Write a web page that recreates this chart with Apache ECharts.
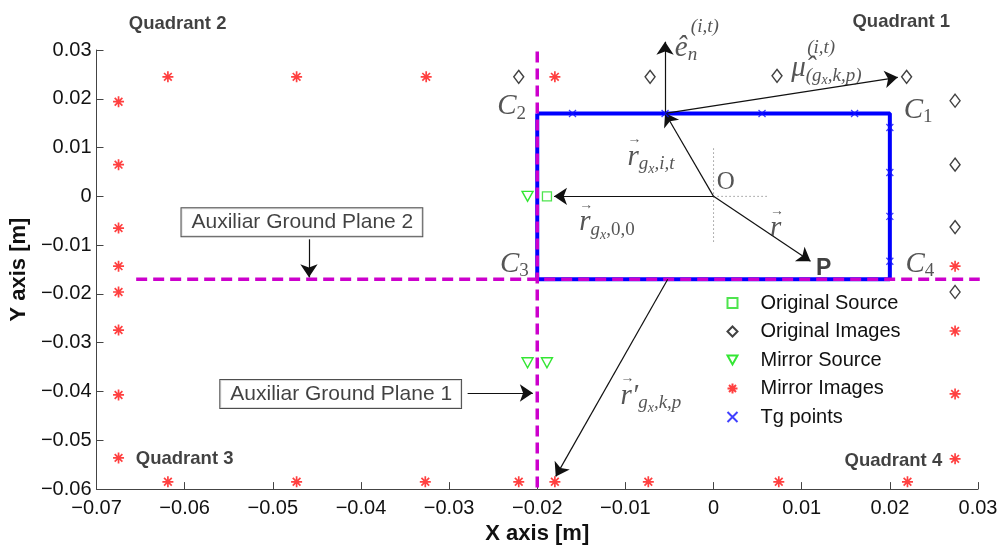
<!DOCTYPE html>
<html>
<head>
<meta charset="utf-8">
<script src="https://cdn.jsdelivr.net/npm/echarts@6/dist/echarts.min.js"></script>
<style>
  html, body { margin: 0; padding: 0; background: #fff; }
  #chart { width: 1001px; height: 550px; }
</style>
</head>
<body>
<div id="chart"></div>
<script>
// tick values of both axes
const xTicks = [-0.07, -0.06, -0.05, -0.04, -0.03, -0.02, -0.01, 0, 0.01, 0.02, 0.03];
const yTicks = [-0.06, -0.05, -0.04, -0.03, -0.02, -0.01, 0, 0.01, 0.02, 0.03];

// conductor rectangle (C2 -> C1 -> C4 -> C3 -> C2)
const rectCorners = [[-0.02, 0.017], [0.02, 0.017], [0.02, -0.017], [-0.02, -0.017], [-0.02, 0.017]];

// point series
const originalSource = [[-0.0189, 0]];
const originalImages = [
  [-0.0221, 0.0245], [-0.0072, 0.0245], [0.0072, 0.0247], [0.0219, 0.0245],
  [0.0274, 0.0196], [0.0274, 0.0065], [0.0274, -0.0063], [0.0274, -0.0196]
];
const mirrorSource = [[-0.0211, 0], [-0.0211, -0.0341], [-0.0189, -0.0341]];
const mirrorImages = [
  [-0.0619, 0.0245], [-0.0473, 0.0245], [-0.0326, 0.0245], [-0.0180, 0.0245],
  [-0.0675, 0.0194], [-0.0675, 0.0065], [-0.0675, -0.0065], [-0.0675, -0.0143],
  [-0.0675, -0.0196], [-0.0675, -0.0274], [-0.0675, -0.0407], [-0.0675, -0.0536],
  [-0.0619, -0.0585], [-0.0473, -0.0585], [-0.0327, -0.0585], [-0.0221, -0.0585],
  [-0.0180, -0.0585], [-0.0074, -0.0585], [0.0074, -0.0585], [0.0220, -0.0585],
  [0.0274, -0.0538], [0.0274, -0.0143], [0.0274, -0.0276], [0.0274, -0.0405]
];
const tgPoints = [
  [-0.016, 0.017], [-0.0055, 0.017], [0.0055, 0.017], [0.016, 0.017],
  [0.02, 0.0141], [0.02, 0.0049], [0.02, -0.0041], [0.02, -0.0133]
];

// auxiliar ground planes (dashed)
const groundPlane1 = [[-0.02, 0.0297], [-0.02, -0.06]];
const groundPlane2 = [[-0.0655, -0.017], [0.0302, -0.017]];
// dotted cross at O
const dotV = [[0, 0.0098], [0, -0.0097]];
const dotH = [[0, 0], [0.0062, 0]];

// annotation arrows [from, to]
const arrows = [
  [[0, 0], [-0.0055, 0.0171]],
  [[0, 0], [-0.0181, 0]],
  [[0, 0], [0.011, -0.0133]],
  [[-0.0052, -0.017], [-0.0179, -0.0574]],
  [[-0.0055, 0.017], [-0.0055, 0.0317]],
  [[-0.0055, 0.017], [0.0209, 0.0244]],
  [[-0.0459, -0.0088], [-0.0459, -0.0166]],
  [[-0.0279, -0.0403], [-0.0205, -0.0403]]
];

// text annotations [position, rich text]
const mathLabels = [
  [[-0.0229, 0.0184], '{c|C}{cs|2}'],
  [[0.0232, 0.0176], '{c|C}{cs|1}'],
  [[-0.0226, -0.0139], '{c|C}{cs|3}'],
  [[0.0234, -0.0139], '{c|C}{cs|4}'],
  [[0.0014, 0.0029], '{o|O}'],
  [[0.0125, -0.0149], '{pb|P}'],
  [[-0.0071, 0.0090], '{a|→}\n{m|r}{b|g}{bb|x}{b|,i,t}'],
  [[-0.0121, -0.0045], '{a|→}\n{m|r}{b|g}{bb|x}{bu|,0,0}'],
  [[0.0072, -0.0057], '{a|→}\n{m|r}'],
  [[-0.0071, -0.0400], '{a|→}\n{m|r′}{b|g}{bb|x}{b|,k,p}'],
  [[-0.0019, 0.0320], '{w| }{p|(i,t)}\n{m|ê}{b|n}'],
  [[0.0128, 0.0278], '{w| }{p|(i,t)}\n{m|μ̂}{b|(g}{bb|x}{b|,k,p)}']
];
const quadrantLabels = [
  [[-0.0608, 0.0354], 'Quadrant 2'],
  [[0.0213, 0.0358], 'Quadrant 1'],
  [[-0.0600, -0.0538], 'Quadrant 3'],
  [[0.0204, -0.0542], 'Quadrant 4']
];
const boxLabels = [
  [[-0.0467, -0.0053], 'Auxiliar Ground Plane 2'],
  [[-0.0423, -0.0405], 'Auxiliar Ground Plane 1']
];

const sans = 'Liberation Sans';
const serif = 'Liberation Serif';
const txt = '#2a2a2a';

const starPath = 'path://M0,-10L0,10M-10,0L10,0M-7,-7L7,7M-7,7L7,-7';
const crossPath = 'path://M-1,-1L1,1M-1,1L1,-1';
const downTriangle = 'path://M-1,-0.9L1,-0.9L0,0.9Z';

function fmtTick(v) {
  if (Math.abs(v) < 1e-9) return '0';
  return v.toFixed(2).replace('-', '\u2212');
}

const rich = {
  a: {fontFamily: serif, fontSize: 14, lineHeight: 9, align: 'left', color: txt},
  m: {fontFamily: serif, fontStyle: 'italic', fontSize: 29, lineHeight: 26, align: 'left', verticalAlign: 'middle', color: txt},
  b: {fontFamily: serif, fontStyle: 'italic', fontSize: 19, lineHeight: 26, padding: [14, 0, 0, 0], align: 'left', verticalAlign: 'middle', color: txt},
  bu: {fontFamily: serif, fontSize: 19, lineHeight: 26, padding: [14, 0, 0, 0], align: 'left', verticalAlign: 'middle', color: txt},
  bb: {fontFamily: serif, fontStyle: 'italic', fontSize: 14, lineHeight: 26, padding: [24, 0, 0, 0], align: 'left', verticalAlign: 'middle', color: txt},
  p: {fontFamily: serif, fontStyle: 'italic', fontSize: 19, lineHeight: 16, align: 'left', color: txt},
  w: {width: 16, fontSize: 10, lineHeight: 16, align: 'left'},
  c: {fontFamily: serif, fontStyle: 'italic', fontSize: 29, lineHeight: 28, align: 'left', verticalAlign: 'middle', color: txt},
  cs: {fontFamily: serif, fontSize: 19, lineHeight: 28, padding: [14, 0, 0, 0], align: 'left', verticalAlign: 'middle', color: txt},
  o: {fontFamily: serif, fontSize: 25, color: txt},
  pb: {fontFamily: sans, fontWeight: 'bold', fontSize: 23, color: '#111'}
};

const chart = echarts.init(document.getElementById('chart'), null, {renderer: 'canvas'});

chart.setOption({
  animation: false,
  backgroundColor: '#fff',
  grid: {left: 95, right: 23, top: 50, bottom: 60, containLabel: false},
  legend: {
    orient: 'vertical',
    left: 725,
    top: 292,
    padding: 0,
    itemWidth: 10,
    itemHeight: 10,
    itemGap: 6.5,
    textStyle: {fontFamily: sans, fontSize: 20, lineHeight: 22, color: '#111', padding: [0, 0, 0, 18]},
    data: ['Original Source', 'Original Images', 'Mirror Source', 'Mirror Images', 'Tg points']
  },
  xAxis: {
    type: 'value',
    min: -0.07,
    max: 0.03,
    name: 'X axis [m]',
    nameLocation: 'middle',
    nameGap: 30,
    nameTextStyle: {fontFamily: sans, fontWeight: 'bold', fontSize: 22, color: '#111'},
    axisLine: {onZero: false, lineStyle: {color: '#444', width: 1}},
    axisTick: {inside: true, length: 7, lineStyle: {color: '#444'}, customValues: xTicks},
    axisLabel: {fontFamily: sans, fontSize: 20, color: '#111', margin: 9, customValues: xTicks, formatter: fmtTick},
    splitLine: {show: false}
  },
  yAxis: {
    type: 'value',
    min: -0.06,
    max: 0.03,
    name: 'Y axis [m]',
    nameLocation: 'middle',
    nameGap: 59,
    nameRotate: 90,
    nameTextStyle: {fontFamily: sans, fontWeight: 'bold', fontSize: 22, color: '#111'},
    axisLine: {onZero: false, lineStyle: {color: '#444', width: 1}},
    axisTick: {inside: true, length: 7, lineStyle: {color: '#444'}, customValues: yTicks},
    axisLabel: {fontFamily: sans, fontSize: 20, color: '#111', margin: 5, customValues: yTicks, formatter: fmtTick},
    splitLine: {show: false}
  },
  series: [
    {
      type: 'line', data: rectCorners, showSymbol: false, silent: true, z: 2,
      lineStyle: {color: '#0000ff', width: 4}
    },
    {
      type: 'line', data: groundPlane1, showSymbol: false, silent: true, z: 3,
      lineStyle: {color: '#cc00cc', width: 3.5, type: [11, 6]}
    },
    {
      type: 'line', data: groundPlane2, showSymbol: false, silent: true, z: 3,
      lineStyle: {color: '#cc00cc', width: 3.5, type: [11, 6]}
    },
    {
      type: 'line', data: dotV, showSymbol: false, silent: true, z: 2,
      lineStyle: {color: '#666', width: 1, type: [1, 3]}
    },
    {
      type: 'line', data: dotH, showSymbol: false, silent: true, z: 2,
      lineStyle: {color: '#666', width: 1, type: [1, 3]}
    },
    {
      type: 'lines', coordinateSystem: 'cartesian2d', clip: false, silent: true, z: 5,
      symbol: ['none', 'arrow'], symbolSize: 13,
      lineStyle: {color: '#111', width: 1.2, opacity: 1, curveness: 0},
      data: arrows.map(a => ({coords: a}))
    },
    {
      name: 'Original Source', type: 'scatter', data: originalSource, z: 6,
      symbol: 'rect', symbolSize: 9,
      itemStyle: {color: 'rgba(255,255,255,0)', borderColor: '#22dd22', borderWidth: 1.3}
    },
    {
      name: 'Original Images', type: 'scatter', data: originalImages, z: 6,
      symbol: 'diamond', symbolSize: [10, 13],
      itemStyle: {color: 'rgba(255,255,255,0)', borderColor: '#111', borderWidth: 1.4}
    },
    {
      name: 'Mirror Source', type: 'scatter', data: mirrorSource, z: 6,
      symbol: downTriangle, symbolSize: [11, 10],
      itemStyle: {color: 'rgba(255,255,255,0)', borderColor: '#00e000', borderWidth: 1.4}
    },
    {
      name: 'Mirror Images', type: 'scatter', data: mirrorImages, z: 6,
      symbol: starPath, symbolSize: 11,
      itemStyle: {color: 'none', borderColor: '#ff1010', borderWidth: 1.7}
    },
    {
      name: 'Tg points', type: 'scatter', data: tgPoints, z: 6,
      symbol: crossPath, symbolSize: 7,
      itemStyle: {color: 'none', borderColor: '#1010ff', borderWidth: 1.3}
    },
    {
      type: 'scatter', clip: false, silent: true, z: 7, symbolSize: 1,
      itemStyle: {color: 'rgba(0,0,0,0)'},
      label: {show: true, position: 'inside', rich: rich},
      data: mathLabels.map(l => ({value: l[0], label: {formatter: l[1]}}))
    },
    {
      type: 'scatter', clip: false, silent: true, z: 7, symbolSize: 1,
      itemStyle: {color: 'rgba(0,0,0,0)'},
      label: {show: true, position: 'inside', fontFamily: sans, fontWeight: 'bold', fontSize: 18.5, color: '#111'},
      data: quadrantLabels.map(l => ({value: l[0], label: {formatter: l[1]}}))
    },
    {
      type: 'scatter', clip: false, silent: true, z: 8, symbolSize: 1,
      itemStyle: {color: 'rgba(0,0,0,0)'},
      label: {
        show: true, position: 'inside', fontFamily: sans, fontSize: 21, color: '#111',
        backgroundColor: '#fff', borderColor: '#222', borderWidth: 1, padding: [4, 9, 3, 10]
      },
      data: boxLabels.map(l => ({value: l[0], label: {formatter: l[1]}}))
    }
  ]
});
</script>
</body>
</html>
